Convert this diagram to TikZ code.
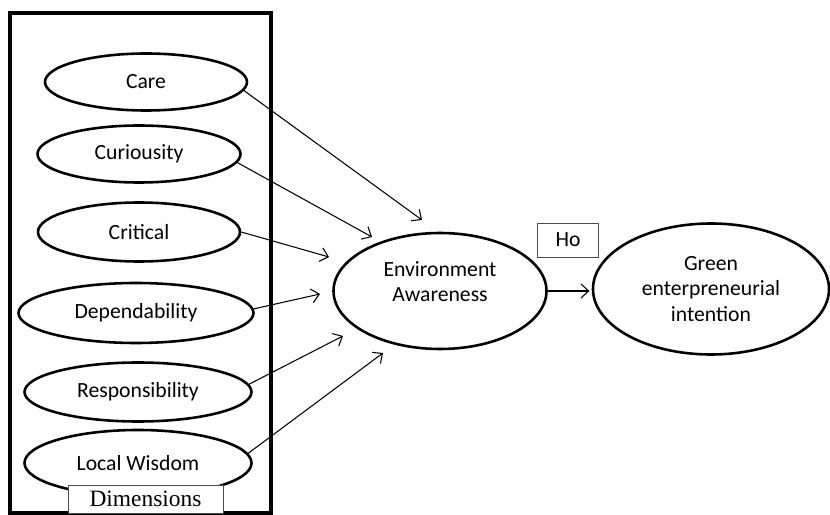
\documentclass[tikz,border=0pt]{standalone}
\usepackage{fontspec}
\setmainfont{Carlito}
\newfontfamily\dimfont{Liberation Serif}
\usetikzlibrary{arrows.meta, shapes.geometric}

\begin{document}
\begin{tikzpicture}[
    x=0.03cm, y=-0.03cm,
    factor/.style 2 args={ellipse, draw, line width=2.2pt, inner sep=0pt,
               minimum width=#1, minimum height=#2,
               font=\fontsize{18.5}{21.5}\selectfont, align=center},
    tag/.style={draw=black!70, line width=0.7pt, inner sep=0pt},
    link/.style={-{Straight Barb[length=6.5pt,width=12pt]}, line width=0.9pt},
]
    \useasboundingbox (0,0) rectangle (830,515);

    % Frame of the dimensions
    \draw[line width=2.8pt] (10,13) rectangle (271,513);

    % Dimensions
    \node[factor={6.06cm}{1.71cm}] (care) at (146,82) {Care};
    \node[factor={6.09cm}{1.71cm}] (curio) at (139,154) {Curiousity};
    \node[factor={6.06cm}{1.77cm}] (crit) at (139,232) {Critical};
    \node[factor={7.05cm}{1.80cm}] (depend) at (136,313) {Dependability};
    \node[factor={6.81cm}{1.77cm}] (respon) at (138,392) {Responsibility};
    \node[factor={6.81cm}{1.98cm}] (local) at (138,463) {Local Wisdom};
    \node[tag, fill=white, minimum width=4.65cm, minimum height=0.84cm,
          font=\dimfont\fontsize{20}{22}\selectfont] (dims) at (145.5,499)
          {\raisebox{-3pt}{Dimensions}};

    % Constructs
    \node[factor={6.39cm}{3.48cm}] (aware) at (440,291) {Environment\\Awareness\\[-5pt]};
    \node[factor={7.08cm}{3.93cm}] (green) at (711,289) {Green\\enterpreneurial\\intention};
    \node[tag, minimum width=1.83cm, minimum height=1.02cm,
          font=\fontsize{18.5}{21.5}\selectfont] (ho) at (568,240) {Ho};

    % Arrow ends
    \coordinate (careend) at (422,220);
    \coordinate (curioend) at (372,237);
    \coordinate (critend) at (329,257);
    \coordinate (dependend) at (320,294);
    \coordinate (responend) at (343,336);
    \coordinate (localend) at (383,353);

    % Paths
    \draw[link] (care.-5) -- (careend);
    \draw[link] (curio.-5) -- (curioend);
    \draw[link] (crit.east) -- (critend);
    \draw[link] (depend.2) -- (dependend);
    \draw[link] (respon.4) -- (responend);
    \draw[link] (local.5) -- (localend);
    \draw[link, shorten >=2pt] (aware.east) -- (aware.east -| green.west);
\end{tikzpicture}
\end{document}
